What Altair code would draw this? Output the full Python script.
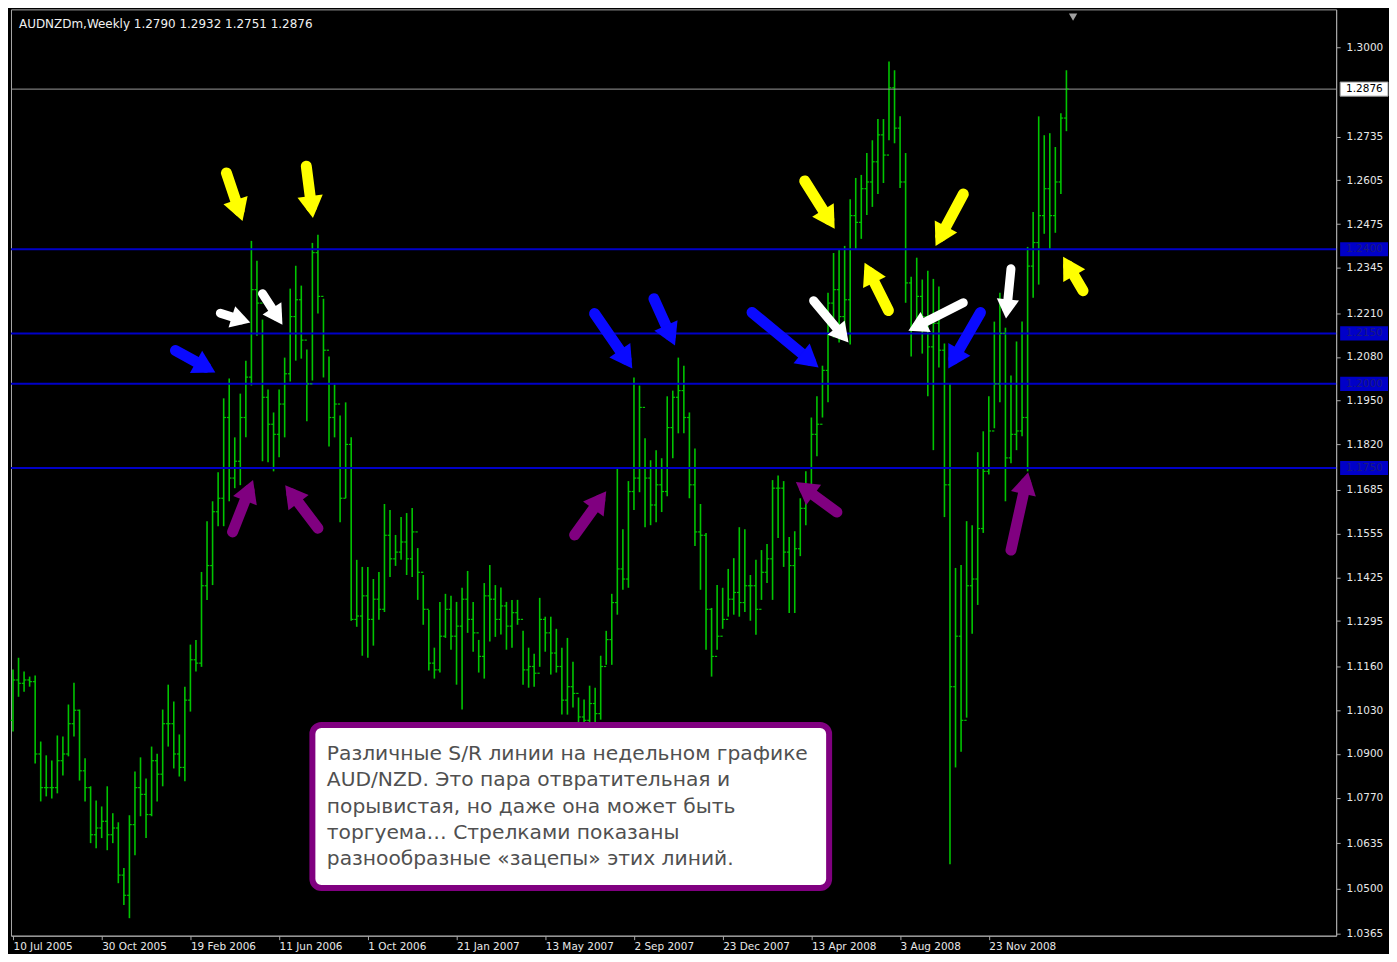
import math
import altair as alt
import pandas as pd

# ---------------- data ----------------
highs = [
    1.1151, 1.1186, 1.1145, 1.1130, 1.1133, 1.0937, 1.0896, 1.0881, 1.0955, 1.0952,
    1.1047, 1.1112, 1.1032, 1.0887, 1.0804, 1.0762, 1.0744, 1.0804, 1.0724, 1.0697,
    1.0561, 1.0718, 1.0848, 1.0890, 1.0827, 1.0922, 1.0901, 1.1032, 1.1106, 1.1056,
    1.0958, 1.1100, 1.1225, 1.1239, 1.1441, 1.1592, 1.1651, 1.1737, 1.1957, 1.2016,
    1.1841, 1.1971, 1.2069, 1.2425, 1.2366, 1.2191, 1.1983, 1.1915, 1.1983, 1.2078,
    1.2283, 1.2351, 1.2292, 1.2102, 1.2419, 1.2443, 1.2253, 1.2081, 1.1998, 1.1906,
    1.1945, 1.1841, 1.1477, 1.1456, 1.1456, 1.1420, 1.1441, 1.1643, 1.1625, 1.1551,
    1.1604, 1.1616, 1.1631, 1.1512, 1.1432, 1.1328, 1.1216, 1.1352, 1.1376, 1.1370,
    1.1352, 1.1394, 1.1444, 1.1352, 1.1239, 1.1408, 1.1462, 1.1402, 1.1395, 1.1352,
    1.1358, 1.1358, 1.1266, 1.1216, 1.1198, 1.1364, 1.1308, 1.1308, 1.1272, 1.1216,
    1.1245, 1.1174, 1.1068, 1.1062, 1.1103, 1.1097, 1.1192, 1.1266, 1.1376, 1.1749,
    1.1568, 1.1711, 1.2019, 1.1995, 1.1838, 1.1773, 1.1803, 1.1779, 1.1963, 1.1980,
    1.2078, 1.2054, 1.1915, 1.1808, 1.1643, 1.1557, 1.1334, 1.1402, 1.1394, 1.1450,
    1.1482, 1.1574, 1.1568, 1.1432, 1.1477, 1.1506, 1.1524, 1.1714, 1.1728, 1.1711,
    1.1545, 1.1562, 1.1660, 1.1740, 1.1900, 1.1963, 1.2054, 1.2271, 1.2389, 1.2401,
    1.2410, 1.2549, 1.2612, 1.2621, 1.2686, 1.2724, 1.2787, 1.2787, 1.2958, 1.2932,
    1.2795, 1.2686, 1.2318, 1.2375, 1.2310, 1.2336, 1.2312, 1.2289, 1.2120, 1.2001,
    1.1453, 1.1462, 1.1592, 1.1580, 1.1797, 1.1859, 1.1963, 1.2185, 1.2271, 1.2167,
    1.2025, 1.2126, 1.2185, 1.2407, 1.2511, 1.2795, 1.2739, 1.2745, 1.2704, 1.2804,
    1.2932,
]
lows = [
    1.0967, 1.1070, 1.1085, 1.1100, 1.0872, 1.0759, 1.0774, 1.0768, 1.0783, 1.0836,
    1.0893, 1.0952, 1.0821, 1.0759, 1.0635, 1.0620, 1.0650, 1.0614, 1.0635, 1.0516,
    1.0451, 1.0412, 1.0599, 1.0715, 1.0650, 1.0715, 1.0759, 1.0804, 1.0922, 1.0857,
    1.0833, 1.0819, 1.1026, 1.1145, 1.1159, 1.1358, 1.1402, 1.1577, 1.1577, 1.1651,
    1.1690, 1.1699, 1.1841, 1.1995, 1.2143, 1.1770, 1.1767, 1.1740, 1.1782, 1.1841,
    1.2007, 1.2069, 1.2075, 1.1889, 1.2010, 1.2209, 1.2019, 1.1814, 1.1841, 1.1589,
    1.1660, 1.1296, 1.1278, 1.1192, 1.1186, 1.1222, 1.1299, 1.1322, 1.1426, 1.1459,
    1.1477, 1.1432, 1.1426, 1.1358, 1.1284, 1.1148, 1.1124, 1.1142, 1.1245, 1.1210,
    1.1106, 1.1032, 1.1260, 1.1204, 1.1142, 1.1124, 1.1234, 1.1248, 1.1255, 1.1210,
    1.1216, 1.1284, 1.1106, 1.1097, 1.1100, 1.1159, 1.1204, 1.1136, 1.1142, 1.1017,
    1.1017, 1.1038, 1.0987, 1.0958, 1.0987, 1.0987, 1.1002, 1.1165, 1.1165, 1.1314,
    1.1388, 1.1394, 1.1625, 1.1678, 1.1574, 1.1580, 1.1589, 1.1619, 1.1666, 1.1779,
    1.1853, 1.1853, 1.1660, 1.1518, 1.1388, 1.1210, 1.1130, 1.1210, 1.1272, 1.1308,
    1.1314, 1.1308, 1.1322, 1.1296, 1.1254, 1.1358, 1.1408, 1.1358, 1.1542, 1.1456,
    1.1319, 1.1319, 1.1488, 1.1580, 1.1660, 1.1785, 1.1900, 1.1945, 1.2138, 1.2123,
    1.2158, 1.2117, 1.2401, 1.2431, 1.2502, 1.2526, 1.2564, 1.2597, 1.2724, 1.2715,
    1.2582, 1.2241, 1.2081, 1.2176, 1.2090, 1.1963, 1.1803, 1.2049, 1.1604, 1.0572,
    1.0860, 1.0907, 1.1008, 1.1257, 1.1343, 1.1557, 1.1731, 1.1868, 1.1945, 1.1651,
    1.1764, 1.1803, 1.1844, 1.1740, 1.2256, 1.2295, 1.2446, 1.2401, 1.2449, 1.2564,
    1.2751,
]
closes = [
    1.1120, 1.1110, 1.1120, 1.1115, 1.0900, 1.0800, 1.0800, 1.0800, 1.0880, 1.0900,
    1.0990, 1.1030, 1.0850, 1.0800, 1.0660, 1.0680, 1.0700, 1.0660, 1.0680, 1.0540,
    1.0480, 1.0690, 1.0800, 1.0780, 1.0720, 1.0880, 1.0840, 1.0990, 1.0990, 1.0900,
    1.0860, 1.1060, 1.1180, 1.1170, 1.1400, 1.1460, 1.1620, 1.1660, 1.1900, 1.1720,
    1.1770, 1.1900, 1.2020, 1.2280, 1.2240, 1.1960, 1.1880, 1.1850, 1.1940, 1.2030,
    1.2200, 1.2250, 1.2130, 1.2000, 1.2390, 1.2260, 1.2100, 1.1900, 1.1940, 1.1660,
    1.1820, 1.1300, 1.1310, 1.1370, 1.1300, 1.1360, 1.1330, 1.1550, 1.1480, 1.1500,
    1.1530, 1.1480, 1.1560, 1.1440, 1.1330, 1.1170, 1.1150, 1.1250, 1.1330, 1.1250,
    1.1280, 1.1360, 1.1300, 1.1260, 1.1190, 1.1370, 1.1360, 1.1300, 1.1340, 1.1280,
    1.1320, 1.1300, 1.1150, 1.1160, 1.1140, 1.1300, 1.1260, 1.1200, 1.1160, 1.1060,
    1.1100, 1.1080, 1.1010, 1.1000, 1.1050, 1.1020, 1.1160, 1.1240, 1.1350, 1.1450,
    1.1420, 1.1680, 1.1720, 1.1930, 1.1720, 1.1640, 1.1700, 1.1680, 1.1870, 1.1960,
    1.1980, 1.1900, 1.1700, 1.1560, 1.1550, 1.1330, 1.1190, 1.1250, 1.1300, 1.1360,
    1.1380, 1.1350, 1.1400, 1.1400, 1.1330, 1.1440, 1.1480, 1.1690, 1.1690, 1.1500,
    1.1460, 1.1510, 1.1630, 1.1700, 1.1850, 1.1880, 1.2040, 1.2240, 1.2280, 1.2200,
    1.2250, 1.2500, 1.2480, 1.2580, 1.2600, 1.2660, 1.2740, 1.2680, 1.2880, 1.2760,
    1.2600, 1.2300, 1.2160, 1.2260, 1.2200, 1.2110, 1.2180, 1.2100, 1.1700, 1.1100,
    1.1250, 1.1000, 1.1400, 1.1420, 1.1570, 1.1740, 1.1860, 1.2000, 1.2150, 1.1780,
    1.1850, 1.1860, 1.1900, 1.2350, 1.2420, 1.2500, 1.2580, 1.2500, 1.2600, 1.2790,
    1.2876,
]
first_open = 1.1000

date_labels = ["10 Jul 2005", "30 Oct 2005", "19 Feb 2006", "11 Jun 2006",
               "1 Oct 2006", "21 Jan 2007", "13 May 2007", "2 Sep 2007",
               "23 Dec 2007", "13 Apr 2008", "3 Aug 2008", "23 Nov 2008"]
label_step = 16  # weeks between date labels

price_ticks = [1.3000, 1.2735, 1.2605, 1.2475, 1.2345, 1.2210, 1.2080, 1.1950,
               1.1820, 1.1685, 1.1555, 1.1425, 1.1295, 1.1160, 1.1030, 1.0900,
               1.0770, 1.0635, 1.0500, 1.0365]

level_values = [1.2400, 1.2150, 1.2000, 1.1750]
current_price = 1.2876
header_text = "AUDNZDm,Weekly  1.2790 1.2932 1.2751 1.2876"

note_lines = [
    "Различные S/R линии на недельном графике",
    "AUD/NZD. Это пара отвратительная и",
    "порывистая, но даже она может быть",
    "торгуема… Стрелками показаны",
    "разнообразные «зацепы» этих линий.",
]

# arrows: colour, tail (bar index, price), tip (bar index, price), shaft width, head size
arrow_colors = ["#ffff00"] * 6 + ["#ffffff"] * 5 + ["#0a0aff"] * 5 + ["#800080"] * 5
arrow_tail_x = [38.5, 52.9, 142.8, 171.4, 157.9, 193.0,
                37.4, 45.0, 144.4, 171.4, 180.0,
                29.3, 104.9, 115.6, 133.3, 174.5,
                39.6, 55.0, 101.3, 148.6, 180.0]
arrow_tail_p = [1.2627, 1.2647, 1.2603, 1.2564, 1.2218, 1.2277,
                1.2210, 1.2268, 1.2247, 1.2241, 1.2342,
                1.2099, 1.2209, 1.2253, 1.2212, 1.2212,
                1.1560, 1.1571, 1.1551, 1.1619, 1.1506]
arrow_tip_x = [41.4, 54.1, 148.2, 166.4, 153.6, 189.4,
               42.8, 48.6, 150.7, 161.5, 179.1,
               36.5, 111.7, 119.4, 145.3, 168.7,
               43.3, 49.1, 107.0, 141.2, 183.1]
arrow_tip_p = [1.2484, 1.2493, 1.2461, 1.2410, 1.2360, 1.2378,
               1.2182, 1.2176, 1.2123, 1.2158, 1.2194,
               1.2034, 1.2046, 1.2114, 1.2049, 1.2046,
               1.1714, 1.1699, 1.1681, 1.1708, 1.1737]
arrow_width = [11] * 6 + [9] * 5 + [11] * 5 + [11] * 5
arrow_head = [650] * 6 + [500] * 5 + [650] * 5 + [650] * 5

# ---------------- geometry ----------------
W, H = 1329, 929
XDOM = [-0.36, 238.65]
YDOM = [1.0360, 1.3113]
GREEN = "#00c400"
FONT = "DejaVu Sans"
AXC = "#a8a8a8"

xs = alt.Scale(domain=XDOM, nice=False, zero=False)
ys = alt.Scale(domain=YDOM, nice=False, zero=False)

n = len(highs)
opens = [first_open] + closes[:-1]
bars = pd.DataFrame({
    "i": list(range(n)), "open": opens, "high": highs, "low": lows, "close": closes,
})
bars["io"] = bars["i"] - 0.42
bars["ic"] = bars["i"] + 0.42

label_expr = ("[" + ",".join("'" + s + "'" for s in date_labels) + "]"
              + f"[round(datum.value/{label_step})]")
x_tick_values = [k * label_step for k in range(len(date_labels))]

x_axis = alt.Axis(values=x_tick_values, labelExpr=label_expr, title=None,
                  labelAlign="left", labelColor="#e8e8e8", labelFont=FONT,
                  labelFontSize=10.5, labelPadding=2, tickSize=4, tickColor=AXC,
                  domainColor=AXC, grid=False, labelOverlap=False, labelFlush=False)
y_axis = alt.Axis(values=price_ticks, format=".4f", orient="right", title=None,
                  labelColor="#e8e8e8", labelFont=FONT, labelFontSize=10.5,
                  labelPadding=6, tickSize=4, tickColor=AXC,
                  domainColor=AXC, grid=False, labelOverlap=False, labelFlush=False)


def X(field, **kw):
    return alt.X(field, scale=xs, axis=x_axis, **kw)


def Y(field, **kw):
    return alt.Y(field, scale=ys, axis=y_axis, **kw)


base = alt.Chart(bars)

hl = base.mark_rule(color=GREEN, strokeWidth=1.6).encode(
    x=X("i:Q"), y=Y("low:Q"), y2="high:Q",
)
open_tick = base.mark_rule(color=GREEN, strokeWidth=1.2).encode(
    x=X("io:Q"), x2="i:Q", y=Y("open:Q"),
)
close_tick = base.mark_rule(color=GREEN, strokeWidth=1.2).encode(
    x=X("i:Q"), x2="ic:Q", y=Y("close:Q"),
)

levels_df = pd.DataFrame({"p": level_values})
levels = alt.Chart(levels_df).mark_rule(color="#0000c8", strokeWidth=2).encode(
    y=Y("p:Q")
)
cur_df = pd.DataFrame({"p": [current_price]})
cur_line = alt.Chart(cur_df).mark_rule(color="#9a9a9a", strokeWidth=1).encode(
    y=Y("p:Q")
)

# arrows
sxp = W / (XDOM[1] - XDOM[0])
syp = H / (YDOM[1] - YDOM[0])
rows = []
for k in range(len(arrow_colors)):
    fx, fp = arrow_tail_x[k], arrow_tail_p[k]
    tx, tp = arrow_tip_x[k], arrow_tip_p[k]
    dx = (tx - fx) * sxp
    dy = -(tp - fp) * syp
    L = math.hypot(dx, dy)
    ux, uy = dx / L, dy / L
    d = math.sqrt(3) / 2 * math.sqrt(arrow_head[k]) / 2
    hx = tx - ux * d / sxp
    hp = tp + uy * d / syp
    ang = (math.degrees(math.atan2(ux, -uy)) + 360) % 360
    rows.append({"k": k, "c": arrow_colors[k], "fx": fx, "fp": fp, "hx": hx, "hp": hp,
                 "ang": ang, "w": arrow_width[k], "s": arrow_head[k]})
arr = pd.DataFrame(rows)

shafts = alt.Chart(arr).mark_rule(strokeCap="round").encode(
    x=X("fx:Q"), x2="hx:Q", y=Y("fp:Q"), y2="hp:Q",
    color=alt.Color("c:N", scale=None),
    strokeWidth=alt.StrokeWidth("w:Q", scale=None),
)
heads = alt.Chart(arr).mark_point(shape="triangle-up", filled=True, opacity=1).encode(
    x=X("hx:Q"), y=Y("hp:Q"),
    color=alt.Color("c:N", scale=None),
    angle=alt.Angle("ang:Q", scale=None),
    size=alt.Size("s:Q", scale=None),
)

# note box
box_df = pd.DataFrame({"x1": [54.0], "x2": [147.2], "p1": [1.0986], "p2": [1.0502]})
box = alt.Chart(box_df).mark_rect(fill="white", stroke="#800080", strokeWidth=6,
                                   cornerRadius=9).encode(
    x=X("x1:Q"), x2="x2:Q", y=Y("p1:Q"), y2="p2:Q",
)
note_df = pd.DataFrame({"x": [56.6], "p": [1.0929], "t": ["\n".join(note_lines)]})
note = alt.Chart(note_df).mark_text(align="left", baseline="top", font=FONT,
                                    fontSize=20.3, color="#505050", lineHeight=26.3,
                                    lineBreak="\n").encode(
    x=X("x:Q"), y=Y("p:Q"), text="t:N",
)

# header
head_df = pd.DataFrame({"t": [header_text]})
header = alt.Chart(head_df).mark_text(align="left", baseline="middle", font=FONT,
                                      fontSize=12, color="#f0f0f0").encode(
    x=alt.value(8), y=alt.value(15), text="t:N"
)

# price boxes on the right axis
lvl_box_df = pd.DataFrame({
    "p": level_values,
    "t": [f"{v:.4f}" for v in level_values],
})
lvl_box_df["pt"] = lvl_box_df["p"] + 0.0021
lvl_box_df["pb"] = lvl_box_df["p"] - 0.0021
lvl_boxes = alt.Chart(lvl_box_df).mark_rect(fill="#0000c8").encode(
    x=alt.value(W + 4), x2=alt.value(W + 52),
    y=Y("pt:Q"), y2="pb:Q",
)
lvl_text = alt.Chart(lvl_box_df).mark_text(align="left", baseline="middle", font=FONT,
                                           fontSize=10.5, color="#1a1a80").encode(
    x=alt.value(W + 10), y=Y("p:Q"), text="t:N"
)
cur_box_df = pd.DataFrame({"p": [current_price], "t": [f"{current_price:.4f}"]})
cur_box_df["pt"] = cur_box_df["p"] + 0.0021
cur_box_df["pb"] = cur_box_df["p"] - 0.0021
cur_box = alt.Chart(cur_box_df).mark_rect(fill="white", stroke="#9a9a9a",
                                          strokeWidth=1).encode(
    x=alt.value(W + 4), x2=alt.value(W + 52),
    y=Y("pt:Q"), y2="pb:Q",
)
cur_text = alt.Chart(cur_box_df).mark_text(align="left", baseline="middle", font=FONT,
                                           fontSize=10.5, color="black").encode(
    x=alt.value(W + 10), y=Y("p:Q"), text="t:N"
)

# chart shift marker at the top
shift_df = pd.DataFrame({"i": [191.2], "p": [1.3090]})
shift = alt.Chart(shift_df).mark_point(shape="triangle-down", filled=True,
                                       color="#a0a0a0", size=70, opacity=1).encode(
    x=X("i:Q"), y=Y("p:Q")
)

chart = alt.layer(
    hl, levels, cur_line, open_tick, close_tick, shafts, heads, box, note, header,
    lvl_boxes, lvl_text, cur_box, cur_text, shift,
).properties(
    width=W, height=H,
    padding={"left": 2, "top": 0, "right": 0, "bottom": 0},
    background="black",
).configure_view(
    fill="black", stroke=AXC, strokeWidth=1
)

chart.save("out.html", embed_options={"renderer": "svg", "actions": False})
